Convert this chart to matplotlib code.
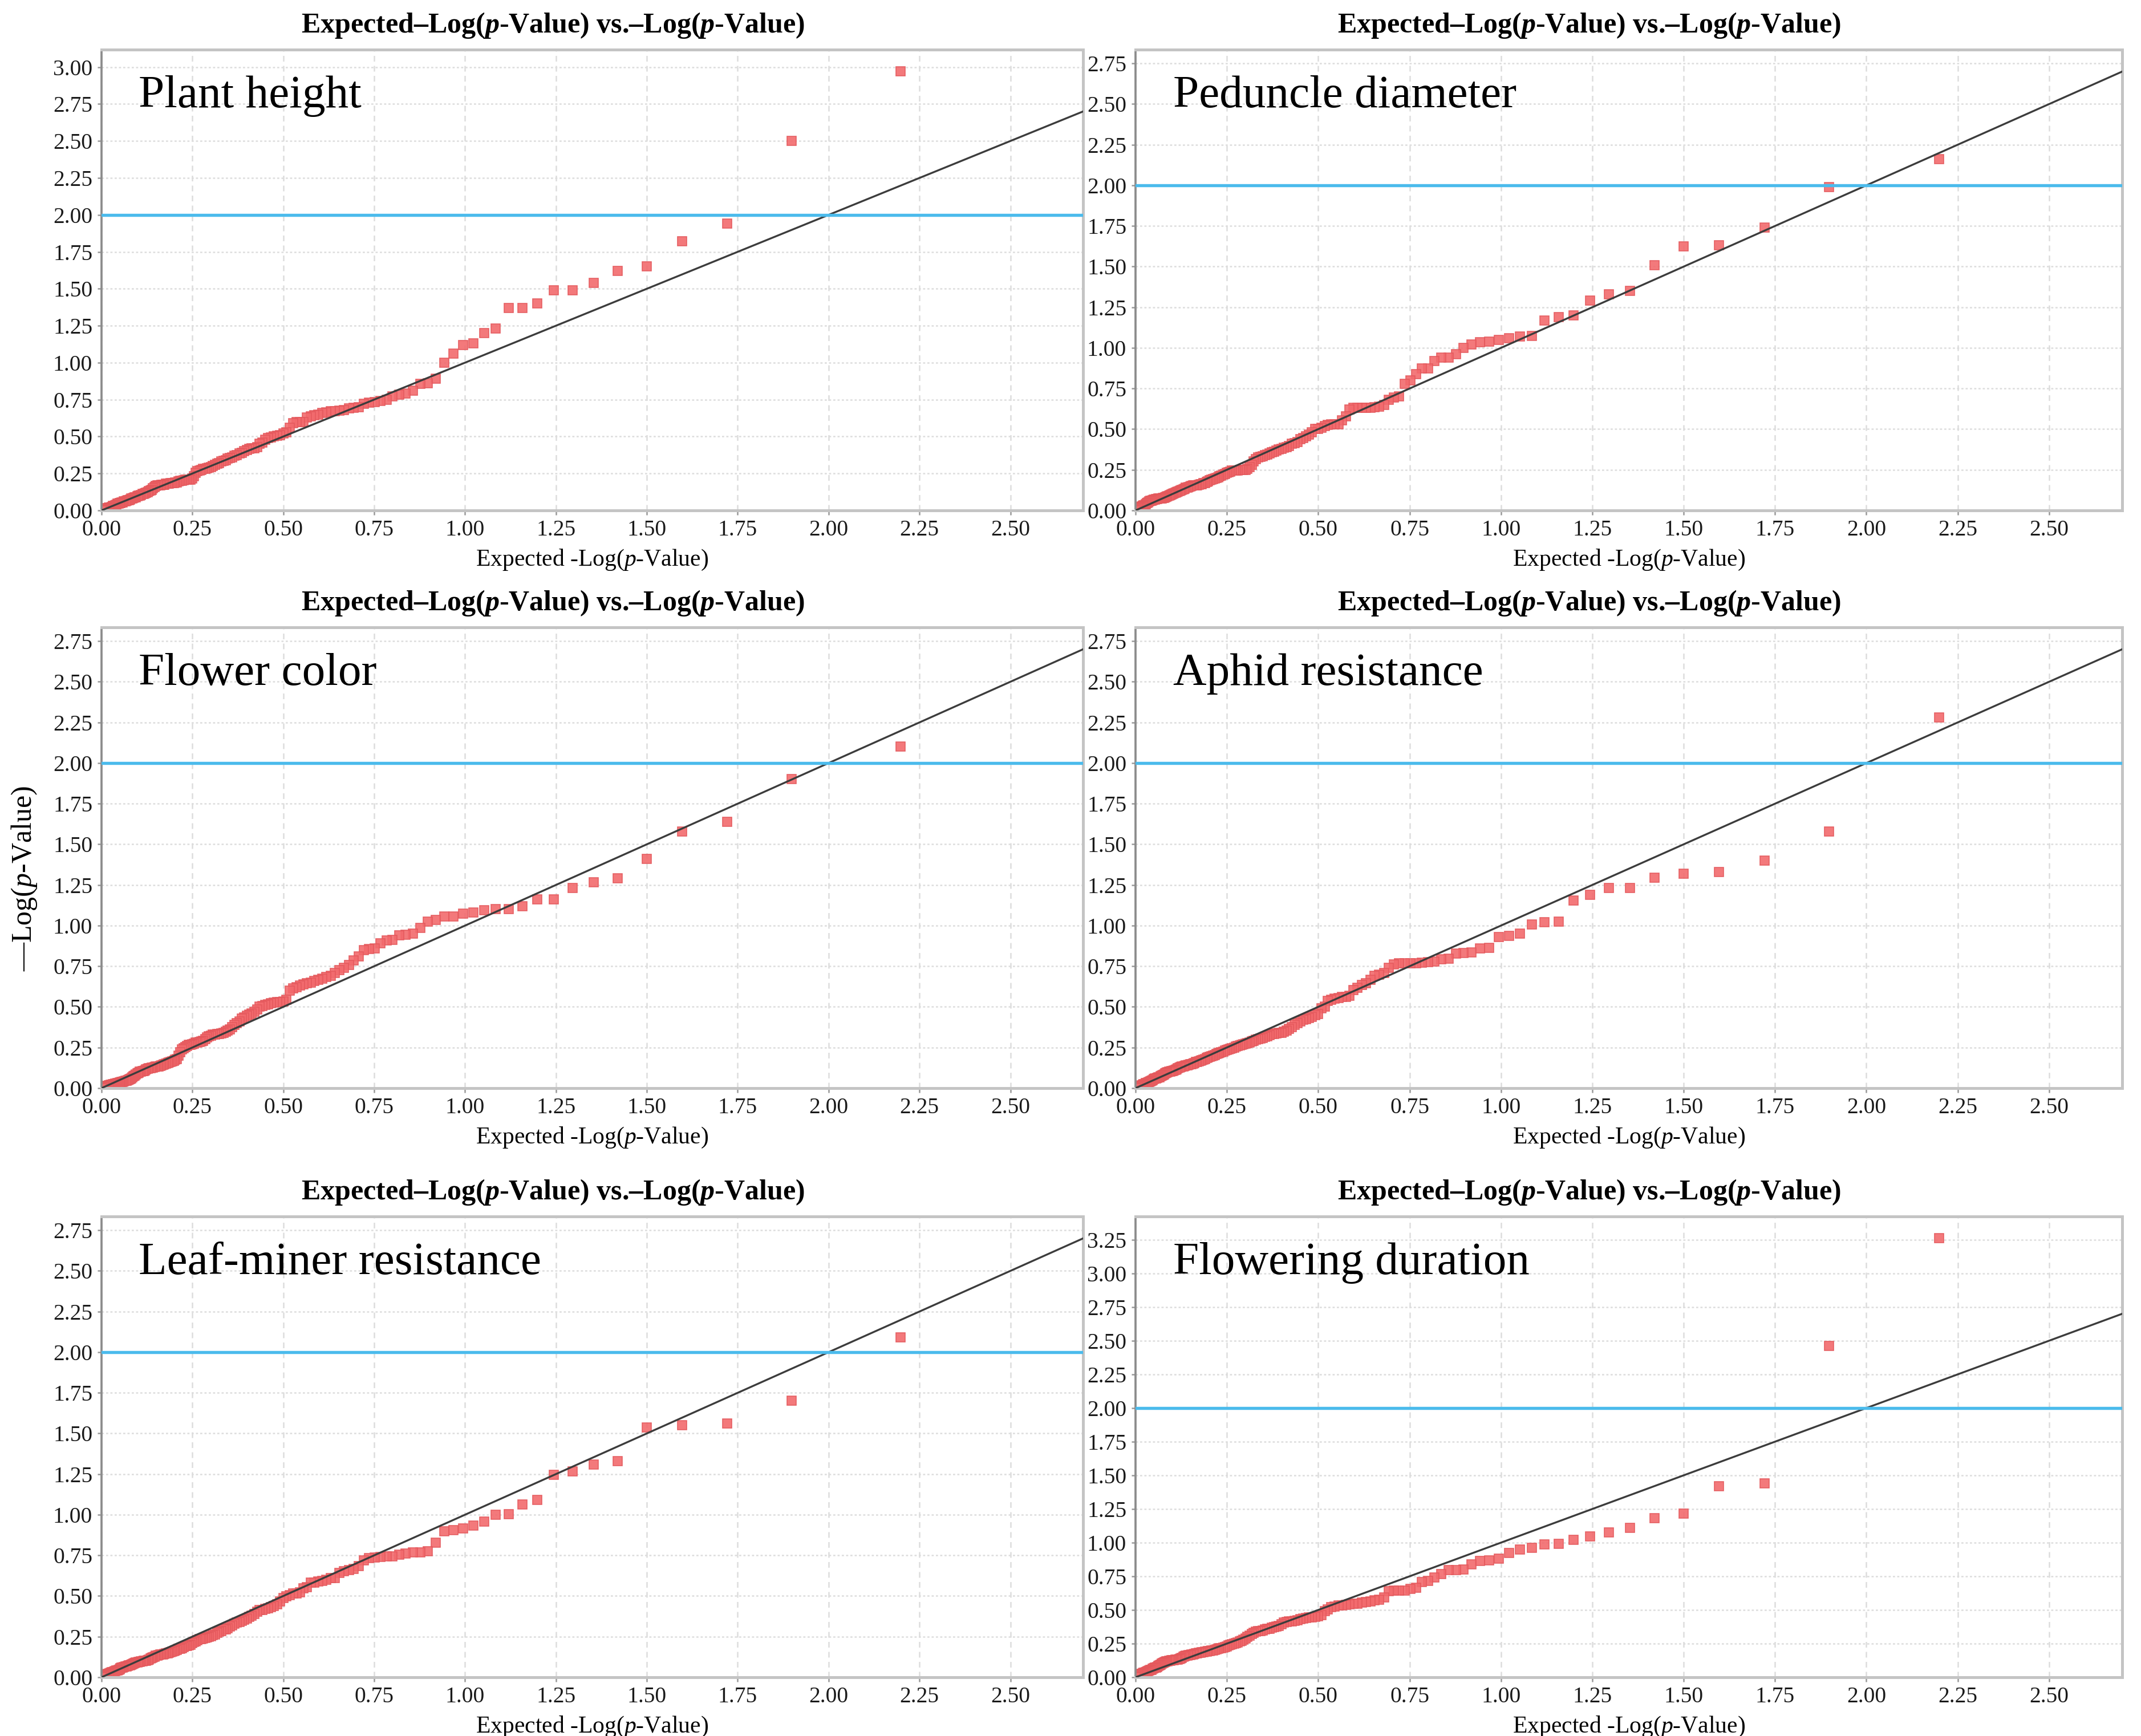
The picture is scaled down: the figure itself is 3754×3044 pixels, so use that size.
import numpy as np
import matplotlib.pyplot as plt
from matplotlib.ticker import FormatStrFormatter

plt.rcParams['font.family'] = ['Liberation Serif', 'DejaVu Serif']
plt.rcParams['mathtext.fontset'] = 'custom'
plt.rcParams['mathtext.rm'] = 'Liberation Serif'
plt.rcParams['mathtext.it'] = 'Liberation Serif:italic'
plt.rcParams['mathtext.bf'] = 'Liberation Serif:bold'
plt.rcParams['mathtext.bfit'] = 'Liberation Serif:italic:bold'

plant_height = [
    2.97, 2.50, 1.94, 1.82, 1.65, 1.62, 1.54, 1.49, 1.49, 1.40,
    1.37, 1.37, 1.23, 1.20, 1.13, 1.12, 1.06, 1.00, 0.89, 0.86,
    0.855, 0.81, 0.79, 0.785, 0.77, 0.75, 0.74, 0.735, 0.73, 0.72,
    0.70, 0.695, 0.69, 0.68, 0.675, 0.67, 0.67, 0.665, 0.66, 0.65,
    0.645, 0.635, 0.63, 0.60, 0.60, 0.60, 0.59, 0.56, 0.53, 0.52,
    0.51, 0.505, 0.50, 0.495, 0.49, 0.48, 0.46, 0.45, 0.43, 0.42,
    0.42, 0.415, 0.41, 0.40, 0.39, 0.385, 0.375, 0.37, 0.36, 0.355,
    0.35, 0.34, 0.335, 0.33, 0.32, 0.315, 0.31, 0.30, 0.295, 0.29,
    0.285, 0.28, 0.28, 0.275, 0.27, 0.265, 0.255, 0.23, 0.215, 0.21,
    0.21, 0.21, 0.21, 0.205, 0.20, 0.20, 0.195, 0.19, 0.19, 0.185,
    0.185, 0.185, 0.18, 0.18, 0.18, 0.175, 0.175, 0.175, 0.17, 0.17,
    0.17, 0.165, 0.16, 0.15, 0.14, 0.135, 0.13, 0.125, 0.12, 0.115,
    0.11, 0.11, 0.105, 0.10, 0.10, 0.095, 0.09, 0.09, 0.085, 0.08,
    0.08, 0.075, 0.07, 0.07, 0.065, 0.06, 0.06, 0.055, 0.055, 0.05,
    0.05, 0.045, 0.045, 0.04, 0.035, 0.03, 0.03, 0.025, 0.02, 0.02,
    0.02, 0.015, 0.015, 0.01, 0.01, 0.005, 0.005, 0.0,
]

peduncle_diameter = [
    2.16, 1.99, 1.74, 1.63, 1.625, 1.51, 1.35, 1.33, 1.29, 1.20,
    1.19, 1.17, 1.075, 1.07, 1.06, 1.05, 1.04, 1.035, 1.02, 1.00,
    0.96, 0.94, 0.94, 0.92, 0.875, 0.875, 0.84, 0.80, 0.78, 0.70,
    0.695, 0.68, 0.65, 0.64, 0.635, 0.633, 0.633, 0.633, 0.633, 0.63,
    0.62, 0.58, 0.555, 0.53, 0.53, 0.53, 0.525, 0.52, 0.51, 0.50,
    0.50, 0.48, 0.465, 0.455, 0.447, 0.44, 0.42, 0.415, 0.41, 0.395,
    0.39, 0.387, 0.38, 0.375, 0.37, 0.36, 0.357, 0.35, 0.345, 0.34,
    0.335, 0.33, 0.327, 0.315, 0.30, 0.28, 0.267, 0.255, 0.25, 0.25,
    0.25, 0.248, 0.247, 0.246, 0.245, 0.245, 0.24, 0.235, 0.23, 0.225,
    0.22, 0.215, 0.21, 0.205, 0.20, 0.197, 0.193, 0.19, 0.185, 0.18,
    0.175, 0.17, 0.167, 0.163, 0.16, 0.157, 0.155, 0.155, 0.153, 0.153,
    0.15, 0.148, 0.145, 0.142, 0.14, 0.135, 0.13, 0.127, 0.123, 0.12,
    0.117, 0.113, 0.11, 0.106, 0.10, 0.098, 0.095, 0.09, 0.087, 0.083,
    0.08, 0.078, 0.076, 0.075, 0.074, 0.073, 0.072, 0.071, 0.07, 0.068,
    0.066, 0.064, 0.061, 0.058, 0.055, 0.05, 0.044, 0.038, 0.033, 0.03,
    0.027, 0.024, 0.021, 0.019, 0.017, 0.015, 0.008, 0.0,
]

flower_color = [
    2.10, 1.90, 1.64, 1.58, 1.41, 1.29, 1.265, 1.23, 1.16, 1.16,
    1.12, 1.10, 1.10, 1.095, 1.08, 1.075, 1.055, 1.055, 1.035, 1.025,
    0.985, 0.95, 0.945, 0.94, 0.913, 0.907, 0.89, 0.86, 0.855, 0.85,
    0.81, 0.787, 0.757, 0.74, 0.725, 0.71, 0.69, 0.683, 0.675, 0.667,
    0.66, 0.65, 0.645, 0.637, 0.63, 0.62, 0.615, 0.60, 0.545, 0.535,
    0.53, 0.53, 0.528, 0.522, 0.517, 0.512, 0.505, 0.50, 0.485, 0.47,
    0.46, 0.452, 0.445, 0.435, 0.427, 0.41, 0.40, 0.39, 0.375, 0.362,
    0.355, 0.348, 0.342, 0.337, 0.335, 0.333, 0.331, 0.33, 0.322, 0.318,
    0.313, 0.30, 0.29, 0.287, 0.284, 0.282, 0.28, 0.275, 0.27, 0.267,
    0.265, 0.26, 0.252, 0.245, 0.24, 0.22, 0.20, 0.18, 0.175, 0.17,
    0.165, 0.162, 0.158, 0.155, 0.15, 0.146, 0.144, 0.14, 0.137, 0.134,
    0.133, 0.132, 0.13, 0.128, 0.126, 0.124, 0.122, 0.12, 0.115, 0.11,
    0.107, 0.104, 0.102, 0.10, 0.095, 0.09, 0.085, 0.078, 0.072, 0.066,
    0.06, 0.055, 0.052, 0.048, 0.046, 0.044, 0.042, 0.04, 0.038, 0.036,
    0.034, 0.032, 0.03, 0.028, 0.027, 0.025, 0.024, 0.022, 0.02, 0.018,
    0.016, 0.014, 0.013, 0.012, 0.009, 0.006, 0.003, 0.0,
]

aphid_resistance = [
    2.28, 1.58, 1.40, 1.33, 1.32, 1.296, 1.233, 1.233, 1.19, 1.155,
    1.023, 1.02, 1.007, 0.95, 0.937, 0.93, 0.863, 0.86, 0.835, 0.83,
    0.827, 0.797, 0.793, 0.78, 0.776, 0.773, 0.77, 0.767, 0.767, 0.767,
    0.76, 0.74, 0.71, 0.697, 0.69, 0.665, 0.647, 0.635, 0.617, 0.605,
    0.568, 0.562, 0.562, 0.556, 0.55, 0.545, 0.538, 0.50, 0.49, 0.455,
    0.45, 0.437, 0.43, 0.424, 0.42, 0.412, 0.40, 0.39, 0.376, 0.365,
    0.355, 0.346, 0.34, 0.34, 0.338, 0.335, 0.334, 0.328, 0.32, 0.316,
    0.31, 0.304, 0.30, 0.298, 0.29, 0.286, 0.28, 0.276, 0.274, 0.27,
    0.268, 0.262, 0.258, 0.256, 0.25, 0.245, 0.242, 0.238, 0.235, 0.23,
    0.225, 0.22, 0.216, 0.214, 0.21, 0.205, 0.20, 0.197, 0.193, 0.19,
    0.185, 0.18, 0.176, 0.172, 0.168, 0.165, 0.162, 0.16, 0.155, 0.152,
    0.148, 0.146, 0.144, 0.142, 0.14, 0.138, 0.135, 0.132, 0.13, 0.127,
    0.122, 0.117, 0.112, 0.108, 0.106, 0.104, 0.102, 0.10, 0.098, 0.094,
    0.09, 0.085, 0.08, 0.076, 0.072, 0.068, 0.065, 0.062, 0.06, 0.058,
    0.055, 0.05, 0.046, 0.043, 0.04, 0.036, 0.033, 0.03, 0.026, 0.023,
    0.02, 0.018, 0.015, 0.012, 0.01, 0.007, 0.004, 0.0,
]

leaf_miner_resistance = [
    2.09, 1.70, 1.56, 1.55, 1.537, 1.33, 1.31, 1.267, 1.245, 1.09,
    1.062, 1.005, 1.00, 0.957, 0.934, 0.915, 0.906, 0.897, 0.828, 0.774,
    0.768, 0.767, 0.76, 0.753, 0.744, 0.743, 0.742, 0.738, 0.732, 0.72,
    0.684, 0.666, 0.66, 0.654, 0.642, 0.612, 0.609, 0.60, 0.594, 0.588,
    0.582, 0.582, 0.555, 0.546, 0.522, 0.516, 0.516, 0.504, 0.498, 0.486,
    0.468, 0.45, 0.44, 0.43, 0.426, 0.42, 0.414, 0.414, 0.402, 0.39,
    0.38, 0.372, 0.36, 0.354, 0.348, 0.342, 0.336, 0.33, 0.318, 0.312,
    0.30, 0.295, 0.294, 0.285, 0.282, 0.275, 0.264, 0.26, 0.252, 0.25,
    0.246, 0.243, 0.24, 0.236, 0.234, 0.228, 0.222, 0.216, 0.21, 0.20,
    0.197, 0.194, 0.192, 0.186, 0.18, 0.177, 0.174, 0.168, 0.165, 0.162,
    0.158, 0.155, 0.152, 0.149, 0.146, 0.144, 0.142, 0.14, 0.139, 0.138,
    0.135, 0.132, 0.128, 0.124, 0.12, 0.115, 0.11, 0.106, 0.103, 0.102,
    0.10, 0.098, 0.097, 0.096, 0.094, 0.092, 0.09, 0.087, 0.083, 0.08,
    0.078, 0.075, 0.072, 0.07, 0.068, 0.066, 0.063, 0.06, 0.058, 0.055,
    0.05, 0.046, 0.043, 0.042, 0.04, 0.036, 0.033, 0.03, 0.027, 0.024,
    0.022, 0.02, 0.017, 0.014, 0.011, 0.008, 0.004, 0.0,
]

flowering_duration = [
    3.26, 2.46, 1.44, 1.42, 1.217, 1.181, 1.109, 1.074, 1.045, 1.022,
    0.993, 0.987, 0.961, 0.949, 0.925, 0.881, 0.867, 0.865, 0.84, 0.80,
    0.797, 0.797, 0.765, 0.743, 0.717, 0.707, 0.664, 0.657, 0.645, 0.645,
    0.642, 0.64, 0.591, 0.577, 0.57, 0.562, 0.559, 0.555, 0.548, 0.548,
    0.543, 0.54, 0.533, 0.533, 0.526, 0.519, 0.504, 0.49, 0.461, 0.454,
    0.45, 0.446, 0.443, 0.439, 0.435, 0.432, 0.425, 0.42, 0.417, 0.414,
    0.41, 0.407, 0.396, 0.381, 0.378, 0.374, 0.367, 0.36, 0.359, 0.355,
    0.349, 0.345, 0.345, 0.338, 0.33, 0.323, 0.309, 0.30, 0.287, 0.28,
    0.272, 0.265, 0.258, 0.254, 0.251, 0.247, 0.243, 0.236, 0.229, 0.225,
    0.222, 0.218, 0.214, 0.21, 0.207, 0.204, 0.20, 0.197, 0.195, 0.193,
    0.19, 0.189, 0.187, 0.186, 0.184, 0.182, 0.18, 0.177, 0.174, 0.171,
    0.168, 0.166, 0.164, 0.162, 0.16, 0.157, 0.152, 0.146, 0.14, 0.135,
    0.133, 0.131, 0.13, 0.129, 0.128, 0.126, 0.124, 0.122, 0.12, 0.12,
    0.115, 0.11, 0.106, 0.10, 0.095, 0.09, 0.084, 0.078, 0.074, 0.07,
    0.066, 0.062, 0.057, 0.053, 0.05, 0.046, 0.042, 0.038, 0.035, 0.032,
    0.029, 0.026, 0.024, 0.02, 0.015, 0.01, 0.005, 0.0,
]

traits = ['Plant height', 'Peduncle diameter', 'Flower color',
          'Aphid resistance', 'Leaf-miner resistance', 'Flowering duration']
observed = [plant_height, peduncle_diameter, flower_color,
            aphid_resistance, leaf_miner_resistance, flowering_duration]
threshold = 2.0
x_ticks = np.arange(0, 2.51, 0.25)

W, H = 3754, 3044
col_left = [178, 1991]
col_width = [1721, 1730]
row_top = [87, 1100, 2133]
row_height = 808

fig = plt.figure(figsize=(W / 300, H / 300), dpi=300)

for k, (name, obs) in enumerate(zip(traits, observed)):
    row, col = divmod(k, 2)
    ax = fig.add_axes([col_left[col] / W, 1 - (row_top[row] + row_height) / H,
                       col_width[col] / W, row_height / H])
    obs = np.array(obs)
    n = len(obs)
    expected = -np.log10(np.arange(1, n + 1) / n)
    ymax = max(2.7, obs.max()) * 1.05

    ax.plot(expected, obs, 's', ms=3.7, mfc='#f26a6d', mec='#e4585c',
            mew=0.4, alpha=0.9, zorder=2)
    ax.plot([0, 2.7], [0, 2.7], color='#3c3c3c', lw=0.8, zorder=3)
    ax.axhline(threshold, color='#4bbbec', lw=1.3, zorder=3)

    ax.set_xlim(0, 2.7)
    ax.set_ylim(0, ymax)
    ax.set_xticks(x_ticks)
    ax.set_yticks(np.arange(0, ymax, 0.25))
    ax.xaxis.set_major_formatter(FormatStrFormatter('%.2f'))
    ax.yaxis.set_major_formatter(FormatStrFormatter('%.2f'))
    ax.set_axisbelow(True)
    ax.grid(axis='x', ls=(0, (4, 3)), color='#dddddd', lw=0.6)
    ax.grid(axis='y', ls=(0, (1.5, 1.5)), color='#dddddd', lw=0.6)
    ax.tick_params(direction='out', length=1.8, width=0.6, color='#999999',
                   labelsize=9.5, pad=2, labelcolor='#1a1a1a')
    for s in ['top', 'right', 'bottom']:
        ax.spines[s].set_color('#c4c4c4')
        ax.spines[s].set_linewidth(1.2)
    ax.spines['left'].set_color('#8c8c8c')
    ax.spines['left'].set_linewidth(0.9)

    ax.text(0.46, 1.037,
            r'Expected–Log($\mathbfit{p}$-Value) vs.–Log($\mathbfit{p}$-Value)',
            transform=ax.transAxes, ha='center', va='baseline',
            fontsize=12, fontweight='bold')
    ax.text(0.038, 0.875, name, transform=ax.transAxes, va='baseline',
            fontsize=19.5)
    ax.text(0.5, -0.108, r'Expected -Log($\mathit{p}$-Value)',
            transform=ax.transAxes, ha='center', va='center', fontsize=10)

fig.text(43 / W, 1 - 1540 / H, r'—Log($\mathit{p}$-Value)', rotation=90,
         ha='center', va='center', fontsize=12)

fig.savefig('out.png', dpi=300)
